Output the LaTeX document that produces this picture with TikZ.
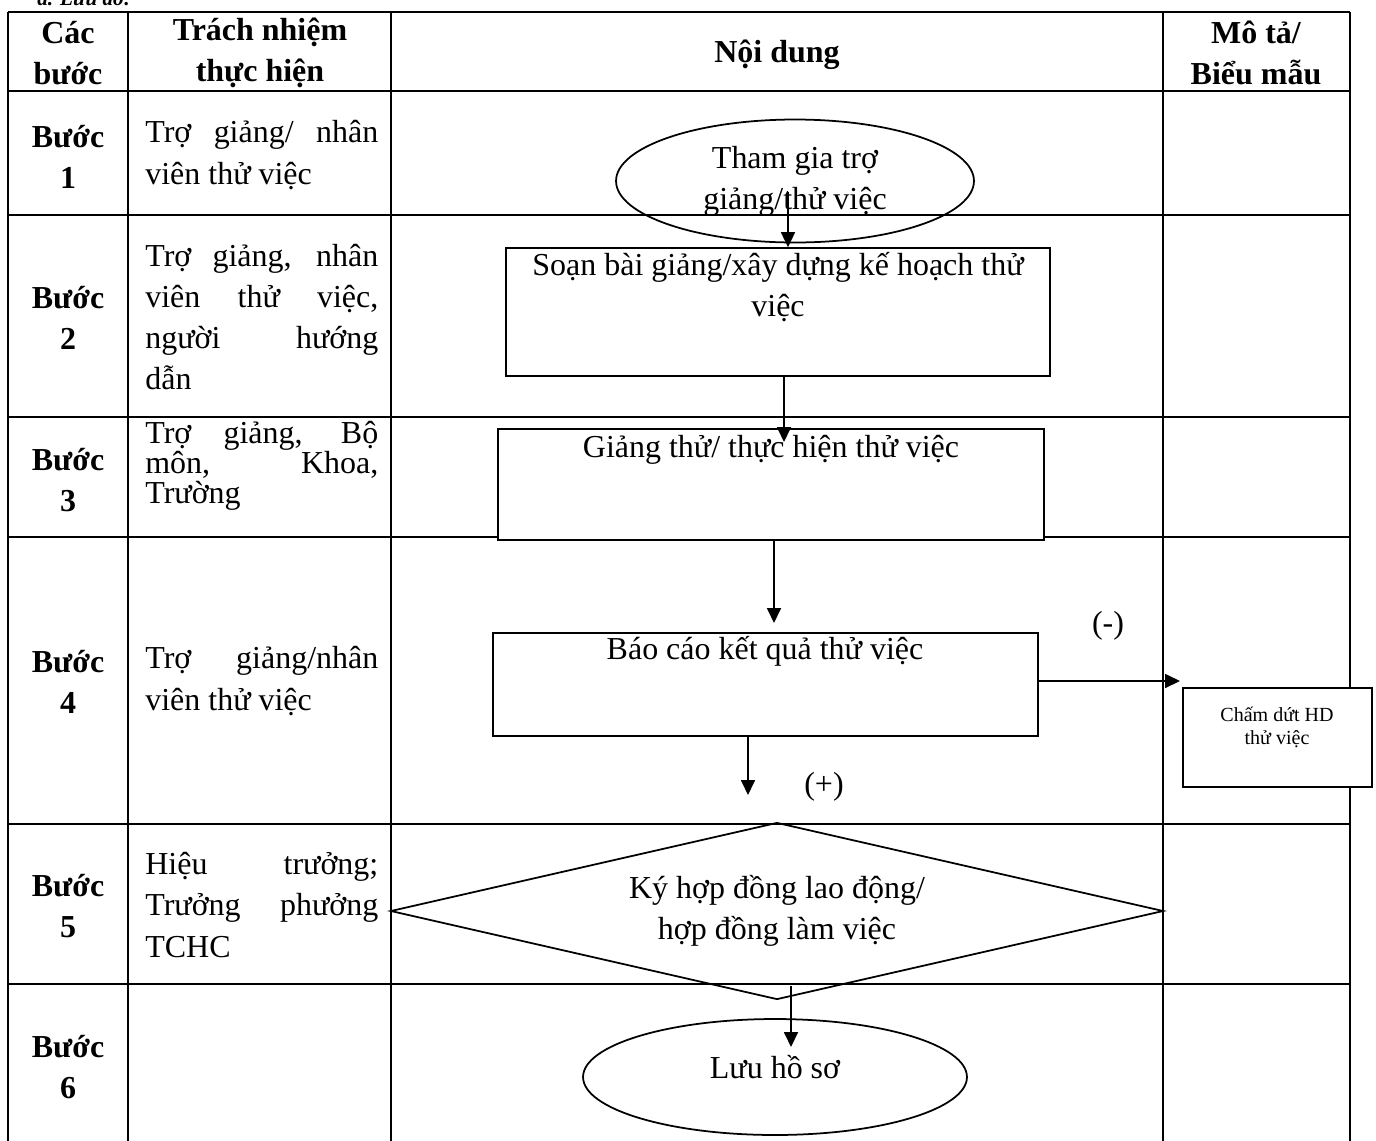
\documentclass[tikz,border=0pt]{standalone}
\usepackage{fontspec}
\setmainfont{Liberation Serif}
\usepackage{tikz}
\usetikzlibrary{arrows.meta, shapes.geometric, calc, positioning}
\hbadness=10000

\begin{document}
\begin{tikzpicture}[x=0.02cm, y=-0.02cm,
  grid/.style={line width=1.4pt},
  shp/.style={draw, line width=1pt, inner sep=0pt},
  arr/.style={line width=1pt, -{Triangle[length=0.3cm, width=0.28cm]}},
  txt/.style={font=\fontsize{18.2}{23.4}\selectfont, inner sep=0pt, align=center},
  bold/.style={txt, font=\fontsize{18.2}{23.4}\selectfont\bfseries},
  resp/.style={txt, text width=4.66cm, align=justify, anchor=west},
  small/.style={font=\fontsize{11.4}{13}\selectfont, inner sep=0pt, align=center}]
\useasboundingbox (0,0) rectangle (1376,1140);
\node[font=\fontsize{12}{14}\selectfont\bfseries\itshape, anchor=base west, inner sep=0pt] (luudo) at (37,5) {a. Lưu đồ:};

\foreach \y in {12,91,215,417,537,824,984} \draw[grid] (8,\y) -- (1350,\y);
\foreach \x in {8,128,391,1163,1350} \draw[grid] (\x,12) -- (\x,1150);

\node[bold] (hcac) at (68,53) {Các\\bước}; \node[bold] (htn) at (260,53) {Trách nhiệm\\thực hiện};
\node[bold] (hnd) at (777,55) {Nội dung}; \node[bold] (hmt) at (1256,53) {Mô tả/\\Biểu mẫu};

\node[bold] (b1) at (68,157) {Bước\\1}; \node[bold] (b2) at (68,318) {Bước\\2};
\node[bold] (b3) at (68,480) {Bước\\3}; \node[bold] (b4) at (68,682) {Bước\\4};
\node[bold] (b5) at (68,906) {Bước\\5}; \node[bold] (b6) at (68,1067) {Bước\\6};

\node[resp] (tn1) at (145,155) {Trợ giảng/ nhân\linebreak viên thử việc};
\node[resp] (tn2) at (145,317) {Trợ giảng, nhân\linebreak viên thử việc,\linebreak người hướng\linebreak dẫn};
\node[resp, anchor=north west, font=\fontsize{18.2}{17}\selectfont] (tn3) at (145,421) {Trợ giảng, Bộ\linebreak môn, Khoa,\linebreak Trường};
\node[resp] (tn4) at (145,681) {Trợ giảng/nhân\linebreak viên thử việc};
\node[resp] (tn5) at (145,905) {Hiệu trưởng;\linebreak Trưởng phưởng\linebreak TCHC};

\node[shp, ellipse, txt, minimum width=7.16cm, minimum height=2.46cm] (tham) at (795,181) {Tham gia trợ\\giảng/thử việc};
\node[shp, fill=white, minimum width=10.88cm, minimum height=2.56cm] (soan) at (778,312) {};
\node[txt, anchor=north] (soant) at (778,252) {Soạn bài giảng/xây dựng kế hoạch thử\\việc};
\node[shp, fill=white, minimum width=10.92cm, minimum height=2.22cm] (giang) at (771,484.5) {};
\node[txt, anchor=north] (giangt) at (771,435) {Giảng thử/ thực hiện thử việc};
\node[shp, fill=white, minimum width=10.9cm, minimum height=2.06cm] (bao) at (765.5,684.5) {};
\node[txt, anchor=north] (baot) at (765,636) {Báo cáo kết quả thử việc};
\node[shp, fill=white, minimum width=3.78cm, minimum height=1.98cm] (cham) at (1277.5,737.5) {};
\node[small, anchor=north] (chamt) at (1277,707) {Chấm dứt HD\\thử việc};
\node[shp, diamond, aspect=4.37, txt, minimum width=15.46cm, minimum height=3.54cm] (ky) at (777,911) {Ký hợp đồng lao động/\\hợp đồng làm việc};
\node[shp, ellipse, minimum width=7.68cm, minimum height=2.32cm] (luu) at (775,1077) {};
\node[txt] (luut) at (775,1067) {Lưu hồ sơ};
\node[txt] (minus) at (1108,626) {(-)}; \node[txt] (plus) at (824,787) {(+)};

\coordinate (p1) at (788,192); \draw[arr] (p1) -- (p1 |- soan.north);
\coordinate (p2) at (784,442); \draw[arr] (p2 |- soan.south) -- (p2);
\coordinate (p3) at (774,623); \draw[arr] (p3 |- giang.south) -- (p3);
\coordinate (p4) at (748,795); \draw[arr] (p4 |- bao.south) -- (p4);
\coordinate (p5) at (1180,681); \draw[arr] (p5 -| bao.east) -- (p5);
\coordinate (p6) at (791,1047); \draw[arr] (p6 |- ky.south) ++(0,-14) -- (p6);
\end{tikzpicture}
\end{document}
